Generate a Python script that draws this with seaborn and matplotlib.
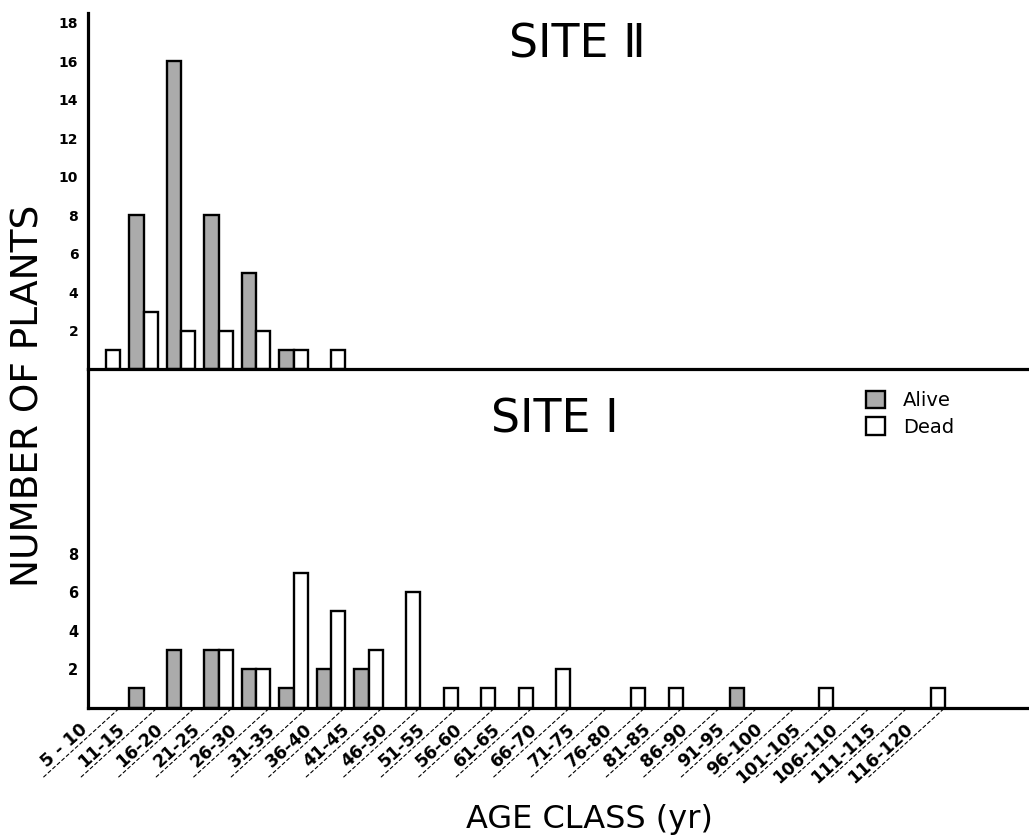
import numpy as np
import pandas as pd
import matplotlib
matplotlib.use("Agg")
import matplotlib.pyplot as plt
from matplotlib.patches import Patch
import seaborn as sns

# ---- data ----
age_classes = ["5-10", "11-15", "16-20", "21-25", "26-30", "31-35", "36-40",
               "41-45", "46-50", "51-55", "56-60", "61-65", "66-70", "71-75",
               "76-80", "81-85", "86-90", "91-95", "96-100", "101-105",
               "106-110", "111-115", "116-120"]
site2_alive = [0, 8, 16, 8, 5, 1, 0, 0, 0, 0, 0, 0, 0, 0, 0, 0, 0, 0, 0, 0, 0, 0, 0]
site2_dead  = [1, 3, 2, 2, 2, 1, 1, 0, 0, 0, 0, 0, 0, 0, 0, 0, 0, 0, 0, 0, 0, 0, 0]
site1_alive = [0, 1, 3, 3, 2, 1, 2, 2, 0, 0, 0, 0, 0, 0, 0, 0, 0, 1, 0, 0, 0, 0, 0]
site1_dead  = [0, 0, 0, 3, 2, 7, 5, 3, 6, 1, 1, 1, 2, 0, 1, 1, 0, 0, 0, 1, 0, 0, 1]
status_names = ["Alive", "Dead"]
site2_yticks = [2, 4, 6, 8, 10, 12, 14, 16, 18]
site1_yticks = [2, 4, 6, 8]


def long_df(alive, dead):
    return pd.DataFrame({
        "age": age_classes * 2,
        "count": list(alive) + list(dead),
        "status": [status_names[0]] * len(alive) + [status_names[1]] * len(dead),
    })


sns.set_theme(style="white")
plt.rcParams["font.family"] = ["DejaVu Sans"]
plt.rcParams["text.color"] = "black"
plt.rcParams["axes.labelcolor"] = "black"
plt.rcParams["xtick.color"] = "black"
plt.rcParams["ytick.color"] = "black"

W, H = 1029, 838
fig = plt.figure(figsize=(W / 100, H / 100), dpi=100)

left = 88 / W
base_top = 369.5
base_bot = 707.5
top_px = 13
ax_top = fig.add_axes([left, 1 - base_top / H, 1 - left, (base_top - top_px) / H])
ax_bot = fig.add_axes([left, 1 - base_bot / H, 1 - left, (base_bot - base_top) / H])

palette = {"Alive": "#ababab", "Dead": "white"}
for ax, alive, dead in [(ax_top, site2_alive, site2_dead), (ax_bot, site1_alive, site1_dead)]:
    sns.barplot(data=long_df(alive, dead), x="age", y="count", hue="status",
                hue_order=status_names, order=age_classes, palette=palette,
                width=0.75, gap=0, saturation=1, edgecolor="black",
                linewidth=1.7, errorbar=None, legend=False, ax=ax)
    for p in ax.patches:
        if p.get_height() == 0:
            p.set_visible(False)
    ax.set_xlim(-0.48, 24.61)
    ax.set_xticks([])
    ax.set_xlabel("")
    ax.set_ylabel("")
    for s in ["top", "right"]:
        ax.spines[s].set_visible(False)
    for s in ["left", "bottom"]:
        ax.spines[s].set_linewidth(2.3)
        ax.spines[s].set_color("black")
    ax.tick_params(axis="y", direction="out", length=5, width=1.8,
                   pad=2, labelsize=10, colors="black")
    ax.patch.set_alpha(0)

ax_top.set_ylim(0, 18.5)
ax_top.set_yticks(site2_yticks)
ax_top.set_yticklabels([str(v) for v in site2_yticks], fontweight="bold", fontsize=10)
ax_bot.set_ylim(0, (base_bot - base_top) / 19.25)
ax_bot.set_yticks(site1_yticks)
ax_bot.set_yticklabels([str(v) for v in site1_yticks], fontweight="bold", fontsize=10.5)

# diagonal dashed separators and rotated age-class labels
for i, lab in enumerate(age_classes):
    ax_bot.annotate("", xy=(i + 0.375, 0), xycoords="data",
                    xytext=(-55, -50), textcoords="offset points",
                    arrowprops=dict(arrowstyle="-", linestyle=(0, (3, 2.5)),
                                    lw=0.8, color="black",
                                    shrinkA=0, shrinkB=0),
                    annotation_clip=False)
    ax_bot.annotate(lab.replace("-", " - ") if i == 0 else lab,
                    xy=(i, 0), xycoords="data",
                    xytext=(-15, -14), textcoords="offset points",
                    rotation=42, rotation_mode="anchor", ha="right", va="center",
                    fontsize=12.5, fontweight="bold", annotation_clip=False)

# titles
ax_top.text((577 - 88) / (W - 88), (base_top - 45) / (base_top - top_px), "SITE \u2161",
            transform=ax_top.transAxes, ha="center", va="center", fontsize=33)
ax_bot.text((555 - 88) / (W - 88), (base_bot - 420) / (base_bot - base_top), "SITE I",
            transform=ax_bot.transAxes, ha="center", va="center", fontsize=33)

# axis labels
fig.text(29 / W, 1 - 396 / H, "NUMBER OF PLANTS", rotation=90,
         ha="center", va="center", fontsize=27)
fig.text(589 / W, 1 - 819 / H, "AGE CLASS (yr)", ha="center", va="center",
         fontsize=23)

# legend
handles = [Patch(facecolor=palette[s], edgecolor="black", linewidth=1.7) for s in status_names]
ax_bot.legend(handles, status_names, loc="upper left",
              bbox_to_anchor=(866 / W, 1 - 391 / H), bbox_transform=fig.transFigure,
              frameon=False, handlelength=1.0, handleheight=1.0,
              handletextpad=0.9, labelspacing=0.35, borderpad=0,
              borderaxespad=0, fontsize=14)

fig.savefig("out.png", dpi=100)
